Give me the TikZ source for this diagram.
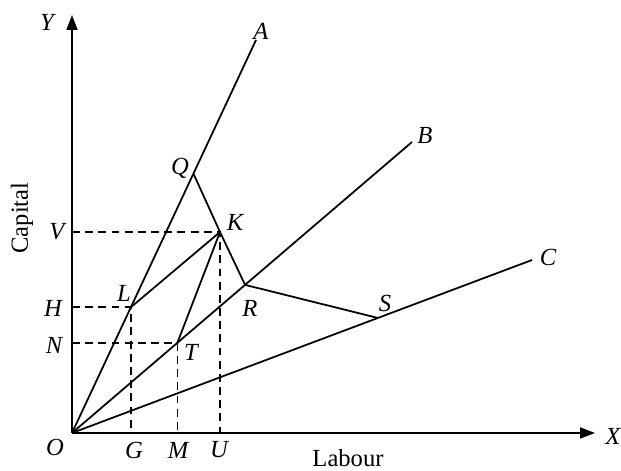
\documentclass[tikz,border=0pt]{standalone}
\usepackage{fontspec}
\setmainfont{Liberation Serif}
\usetikzlibrary{arrows.meta,calc}

\tikzset{
    ray/.style={line width=1pt},
    guide/.style={line width=0.9pt, dash pattern=on 4.5pt off 3pt},
    lbl/.style={font=\fontsize{14}{16}\selectfont\itshape, inner sep=1.5pt},
}

\begin{document}
\begin{tikzpicture}
    \useasboundingbox (-1.44,-0.76) rectangle (10.98,8.66);

    % axes and the three process rays
    \coordinate (O) at (0,0);
    \coordinate (Ytop) at (0,8.36);
    \coordinate (Xend) at (10.46,0);
    \coordinate (A) at (3.68,7.86);
    \coordinate (B) at (6.8,5.82);
    \coordinate (C) at (9.2,3.46);

    \draw[ray, -{Triangle[length=0.3cm,width=0.22cm]}] (O) -- (Ytop);
    \draw[ray, -{Triangle[length=0.3cm,width=0.22cm]}] (O) -- (Xend);
    \draw[ray] (O) -- (A);
    \draw[ray] (O) -- (B);
    \draw[ray] (O) -- (C);

    % points on the rays
    \coordinate (Q) at ($(O)!0.66!(A)$);
    \coordinate (L) at ($(O)!0.32!(A)$);
    \coordinate (R) at ($(O)!0.509!(B)$);
    \coordinate (T) at ($(O)!0.31!(B)$);
    \coordinate (S) at ($(O)!0.665!(C)$);
    \coordinate (K) at (2.96,4.02);

    % isoquant and the lines to K
    \draw[ray, line join=miter] (Q) -- (K) -- (R) -- (S);
    \draw[ray] (L) -- (K);
    \draw[ray] (T) -- (K);

    % dashed guides to the axes
    \coordinate (V) at (O |- K);
    \coordinate (U) at (K |- O);
    \coordinate (H) at (O |- L);
    \coordinate (G) at (L |- O);
    \coordinate (N) at (O |- T);
    \coordinate (M) at (T |- O);
    \draw[guide] (V) -- (K) -- (U);
    \draw[guide] (H) -- (L) -- (G);
    \draw[guide] (N) -- (T) -- (M);

    % labels
    \node[lbl] (lY) at (-0.5,8.22) {Y};
    \node[lbl] (lX) at (10.82,-0.06) {X};
    \node[lbl] (lO) at (-0.34,-0.28) {O};
    \node[lbl] (lA) at (3.78,8.04) {A};
    \node[lbl] (lB) at (7.06,5.96) {B};
    \node[lbl] (lC) at (9.52,3.52) {C};
    \node[lbl] (lQ) at (2.16,5.3) {Q};
    \node[lbl] (lK) at (3.26,4.22) {K};
    \node[lbl] (lL) at (1.04,2.8) {L};
    \node[lbl] (lR) at (3.56,2.5) {R};
    \node[lbl] (lT) at (2.38,1.62) {T};
    \node[lbl] (lS) at (6.26,2.6) {S};
    \node[lbl] (lV) at (-0.3,4.02) {V};
    \node[lbl] (lH) at (-0.38,2.5) {H};
    \node[lbl] (lN) at (-0.36,1.76) {N};
    \node[lbl] (lG) at (1.24,-0.34) {G};
    \node[lbl] (lM) at (2.12,-0.34) {M};
    \node[lbl] (lU) at (2.94,-0.34) {U};
    \node[font=\fontsize{14}{16}\selectfont, inner sep=0pt] (labour) at (5.52,-0.5) {Labour};
    \node[font=\fontsize{14}{16}\selectfont, rotate=90] (capital) at (-1.0,4.3) {Capital};
\end{tikzpicture}
\end{document}
